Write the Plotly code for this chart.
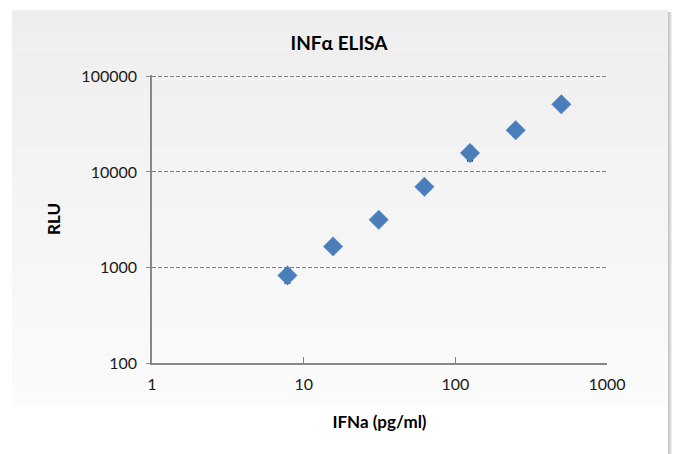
import plotly.graph_objects as go

conc = [7.8125, 15.625, 31.25, 62.5, 125, 250, 500]
rlu = [826, 1660, 3160, 6980, 15800, 27400, 51000]
rlu_err = [140, 80, 150, 400, 2700, 1200, 2000]
x_ticks = [1, 10, 100, 1000]
y_ticks = [100, 1000, 10000, 100000]

W, H = 679, 454
L, R, T, B = 152, 607, 75, 363


def px(x):
    return (x - L) / (R - L)


def py(y):
    return (B - y) / (B - T)


fig = go.Figure()

fig.add_trace(go.Scatter(
    x=conc, y=rlu, mode="markers",
    marker=dict(symbol="diamond", size=15, color="#4a7ebb",
                line=dict(color="#5b8fcc", width=0.5)),
    error_y=dict(type="data", array=rlu_err, visible=True, color="black",
                 thickness=1.3, width=3),
    showlegend=False, hoverinfo="x+y"))

shapes = []
top, bot = 10, 406
n = 40
for i in range(n):
    ya = top + (bot - top) * i / n
    yb = top + (bot - top) * (i + 1) / n
    t = i / (n - 1)
    c = int(round(0xee + (0xfb - 0xee) * t))
    shapes.append(dict(type="rect", xref="paper", yref="paper", layer="below",
                       x0=px(12), x1=px(668), y0=py(yb), y1=py(ya),
                       fillcolor=f"rgb({c},{c},{c})", line=dict(width=0)))
for k, c in enumerate([196, 208, 222, 238]):
    shapes.append(dict(type="rect", xref="paper", yref="paper", layer="below",
                       x0=px(668 + k), x1=px(669 + k), y0=py(H), y1=py(12),
                       fillcolor=f"rgb({c},{c},{c})", line=dict(width=0)))

fig.update_layout(
    width=W, height=H,
    margin=dict(l=L, r=W - R, t=T, b=H - B),
    paper_bgcolor="white", plot_bgcolor="rgba(0,0,0,0)",
    shapes=shapes,
    font=dict(family="Lato, Open Sans, sans-serif", size=16, color="#1a1a1a"),
    title=dict(text="<b>INFα ELISA</b>", x=339 / W, xanchor="center",
               y=1 - 43 / H, yanchor="middle",
               font=dict(size=19, color="black")),
    xaxis=dict(type="log", range=[0, 3], tickvals=x_ticks,
               ticktext=[str(v) for v in x_ticks],
               showgrid=False, zeroline=False,
               showline=True, linecolor="#888888", linewidth=1.5,
               ticks="inside", ticklen=6, tickcolor="#888888",
               ticklabelstandoff=6,
               title=dict(text="<b>IFNa (pg/ml)</b>", standoff=24,
                          font=dict(size=17, color="black"))),
    yaxis=dict(type="log", range=[2, 5.015], tickvals=y_ticks,
               ticktext=[str(v) for v in y_ticks],
               showgrid=True, gridcolor="#7f7f7f", griddash="4px,2px", gridwidth=1,
               zeroline=False,
               showline=True, linecolor="#888888", linewidth=1.5,
               ticks="outside", ticklen=4, tickcolor="#888888",
               ticklabelstandoff=6,
               title=dict(text="<b>RLU</b>", standoff=16,
                          font=dict(size=17, color="black"))),
)

fig.write_html("out.html")
